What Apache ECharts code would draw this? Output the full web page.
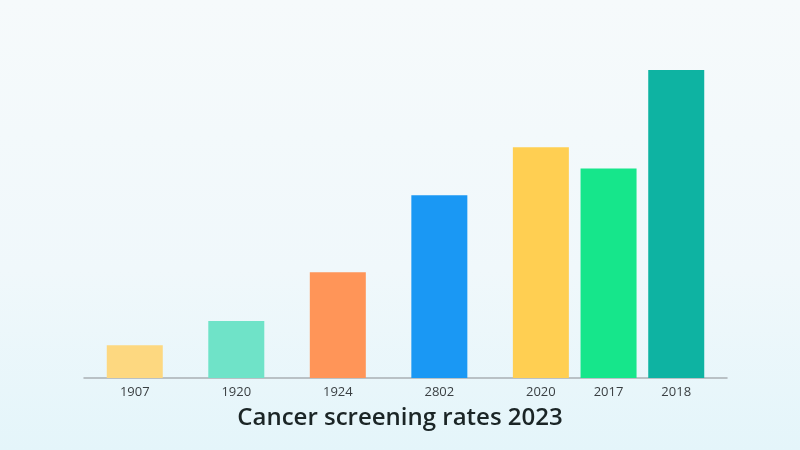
<!DOCTYPE html>
<html>
<head>
<meta charset="utf-8">
<script src="https://cdn.jsdelivr.net/npm/echarts@6/dist/echarts.min.js"></script>
<style>
html,body{margin:0;padding:0;width:800px;height:450px;overflow:hidden;}
#chart{width:800px;height:450px;}
</style>
</head>
<body>
<div id="chart"></div>
<script>
// Data
const categories = ['1907', '1920', '1924', '2802', '2020', '2017', '2018'];
const values = [9.7, 16.9, 31.3, 54.1, 68.3, 62.0, 91.1];
const barColors = ['#FDD880', '#6FE3C8', '#FF9558', '#1A98F4', '#FFCF52', '#16E68B', '#0EB3A2'];
const titleText = 'Cancer screening rates 2023';

// Layout: number of axis slots before each bar (uneven spacing in reference)
const leadSlots = 1;
const slotSteps = [3, 3, 3, 3, 2, 2];
const trailSlots = 1;

const axisData = [];
const seriesData = [];
for (let i = 0; i < leadSlots; i++) { axisData.push(''); seriesData.push(null); }
categories.forEach((c, i) => {
  axisData.push(c);
  seriesData.push({ value: values[i], itemStyle: { color: barColors[i] } });
  if (i < slotSteps.length) {
    for (let k = 1; k < slotSteps[i]; k++) { axisData.push(''); seriesData.push(null); }
  }
});
for (let i = 0; i < trailSlots; i++) { axisData.push(''); seriesData.push(null); }

const chart = echarts.init(document.getElementById('chart'), null, { renderer: 'canvas' });
chart.setOption({
  animation: false,
  backgroundColor: {
    type: 'linear', x: 0, y: 0, x2: 0, y2: 1,
    colorStops: [
      { offset: 0, color: '#F6FAFB' },
      { offset: 0.6, color: '#F0F8FB' },
      { offset: 1, color: '#E4F5FA' }
    ]
  },
  title: {
    text: titleText,
    left: 'center',
    top: 401,
    textStyle: { fontFamily: 'Open Sans', fontSize: 24, fontWeight: 600, color: '#1B2526' }
  },
  grid: { left: 84, right: 73, top: 40, bottom: 72, containLabel: false },
  xAxis: {
    type: 'category',
    data: axisData,
    axisLine: { lineStyle: { color: '#A9B0B4', width: 1.5 } },
    axisTick: { show: false },
    axisLabel: {
      interval: 0,
      margin: 8,
      color: '#3A3F42',
      fontFamily: 'Open Sans',
      fontSize: 13
    }
  },
  yAxis: {
    type: 'value',
    min: 0,
    max: 100,
    show: false,
    splitLine: { show: false }
  },
  series: [{
    type: 'bar',
    data: seriesData,
    barWidth: 56,
    barGap: '-100%'
  }]
});
</script>
</body>
</html>
